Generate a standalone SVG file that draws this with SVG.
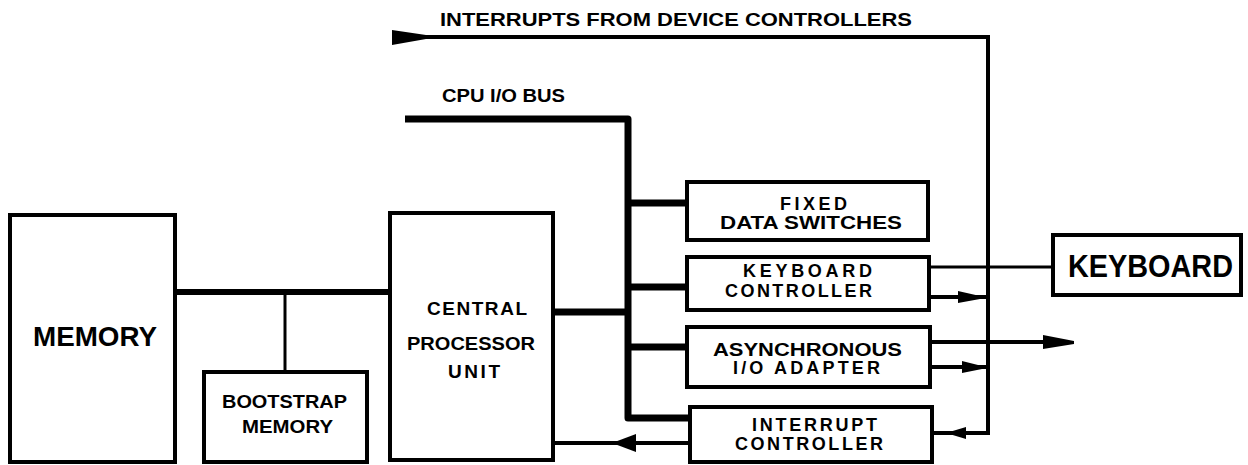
<svg xmlns="http://www.w3.org/2000/svg" width="1248" height="465" viewBox="0 0 1248 465">
<style>
.box{fill:#fff;stroke:#000;stroke-width:4}
.t{font-family:"Liberation Sans",Arial,sans-serif;font-weight:bold;fill:#000;lengthAdjust:spacing}
.bus{fill:none;stroke:#000;stroke-width:7;stroke-linejoin:round}
.ln{fill:none;stroke:#000;stroke-width:4;stroke-linejoin:miter}
.thin{fill:none;stroke:#000;stroke-width:3}
.ah{fill:#000}
</style>
<rect width="1248" height="465" fill="#fff"/>
<g id="connectors">
  <path class="bus" d="M405,119 H628 V418 H690"/>
  <path class="bus" d="M628,203 H687 M628,287 H687 M628,347 H687 M553,312 H628"/>
  <path class="bus" d="M175,292 H390" style="stroke-width:6"/>
  <path class="thin" d="M285,292 V372"/>
  <path class="ln" d="M394,37 H988 V433 H932"/>
  <path class="thin" d="M929,267 H1053"/>
  <path class="ln" d="M929,297 H988 M931,367 H988 M931,342 H1060 M690,443 H553"/>
  <polygon class="ah" points="392,30 426,35 426,39 392,45"/>
  <polygon class="ah" points="958,291 980,296 980,299 958,303"/>
  <polygon class="ah" points="962,361 982,366 982,369 962,373"/>
  <polygon class="ah" points="1043,335 1074,341 1074,344 1043,349"/>
  <polygon class="ah" points="946,433 966,427 966,439"/>
  <polygon class="ah" points="612,443 636,434 636,452"/>
</g>
<g id="memory"><rect class="box" x="10" y="215" width="165" height="247"/>
<text class="t" x="33" y="346" font-size="28" textLength="124" lengthAdjust="spacingAndGlyphs">MEMORY</text></g>
<g id="bootstrap"><rect class="box" x="204" y="372" width="163" height="90"/>
<text class="t" x="222" y="408" font-size="18" textLength="125" lengthAdjust="spacingAndGlyphs">BOOTSTRAP</text>
<text class="t" x="242" y="433" font-size="18" textLength="91" lengthAdjust="spacingAndGlyphs">MEMORY</text></g>
<g id="cpu"><rect class="box" x="390" y="213" width="163" height="247"/>
<text class="t" x="427" y="315" font-size="19" textLength="100" lengthAdjust="spacing">CENTRAL</text>
<text class="t" x="407" y="350" font-size="19" textLength="128" lengthAdjust="spacingAndGlyphs">PROCESSOR</text>
<text class="t" x="448" y="378" font-size="19" textLength="52" lengthAdjust="spacing">UNIT</text></g>
<g id="fixed"><rect class="box" x="687" y="182" width="241" height="58"/>
<text class="t" x="780" y="210" font-size="18" textLength="67" lengthAdjust="spacing">FIXED</text>
<text class="t" x="720" y="229" font-size="18" textLength="182" lengthAdjust="spacingAndGlyphs">DATA SWITCHES</text></g>
<g id="kbctrl"><rect class="box" x="687" y="257" width="242" height="53"/>
<text class="t" x="743" y="277" font-size="18" textLength="129" lengthAdjust="spacing">KEYBOARD</text>
<text class="t" x="725" y="297" font-size="18" textLength="147" lengthAdjust="spacing">CONTROLLER</text></g>
<g id="async"><rect class="box" x="687" y="327" width="243" height="60"/>
<text class="t" x="713" y="356" font-size="18" textLength="189" lengthAdjust="spacingAndGlyphs">ASYNCHRONOUS</text>
<text class="t" x="733" y="374" font-size="18" textLength="147" lengthAdjust="spacing">I/O ADAPTER</text></g>
<g id="intctrl"><rect class="box" x="690" y="407" width="242" height="55"/>
<text class="t" x="752" y="431" font-size="18" textLength="125" lengthAdjust="spacing">INTERRUPT</text>
<text class="t" x="735" y="450" font-size="18" textLength="148" lengthAdjust="spacing">CONTROLLER</text></g>
<g id="keyboard"><rect class="box" x="1053" y="235" width="188" height="60"/>
<text class="t" x="1068" y="277" font-size="31" textLength="165" lengthAdjust="spacingAndGlyphs">KEYBOARD</text></g>
<g id="labels">
<text class="t" x="442" y="102" font-size="19" textLength="123" lengthAdjust="spacingAndGlyphs">CPU I/O BUS</text>
<text class="t" x="440" y="26" font-size="19" textLength="472" lengthAdjust="spacingAndGlyphs">INTERRUPTS FROM  DEVICE CONTROLLERS</text>
</g>
</svg>
